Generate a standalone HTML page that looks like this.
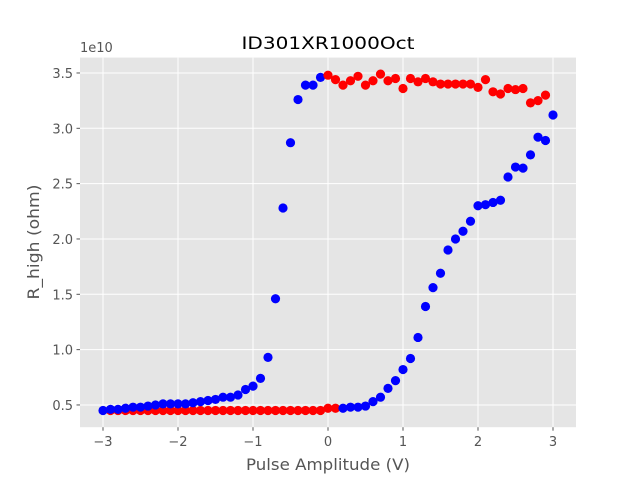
<!DOCTYPE html>
<html><head><meta charset="utf-8"><style>
body{margin:0;background:#fff;}
svg text{font-family:"DejaVu Sans","Liberation Sans",sans-serif;}
</style></head><body>
<svg id="chart" width="640" height="480" xmlns="http://www.w3.org/2000/svg">
<rect x="0" y="0" width="640" height="480" fill="#fff"/>
<rect x="80" y="57.6" width="496" height="369.6" fill="#e5e5e5"/>
<g id="grid"></g>
<g id="ticks"></g>
<g id="series"></g>
<text x="328" y="49" text-anchor="middle" font-size="17" fill="#000" textLength="173" lengthAdjust="spacingAndGlyphs">ID301XR1000Oct</text>
<text x="80" y="52" font-size="13" fill="#555">1e10</text>
<text x="328" y="470" text-anchor="middle" font-size="16" fill="#555" textLength="164" lengthAdjust="spacingAndGlyphs">Pulse Amplitude (V)</text>
<text transform="translate(39,242) rotate(-90)" text-anchor="middle" font-size="16" fill="#555" textLength="115" lengthAdjust="spacingAndGlyphs">R_high (ohm)</text>
</svg>
<script>
const xTicks=[-3,-2,-1,0,1,2,3];
const yTicks=[0.5,1.0,1.5,2.0,2.5,3.0,3.5];
const yTickLabels=["0.5","1.0","1.5","2.0","2.5","3.0","3.5"];
const blueLeftX=[-3.0,-2.9,-2.8,-2.7,-2.6,-2.5,-2.4,-2.3,-2.2,-2.1,-2.0,-1.9,-1.8,-1.7,-1.6,-1.5,-1.4,-1.3,-1.2,-1.1,-1.0,-0.9,-0.8,-0.7,-0.6,-0.5,-0.4,-0.3,-0.2,-0.1];
const blueLeftY=[0.45,0.46,0.46,0.47,0.48,0.48,0.49,0.50,0.51,0.51,0.51,0.51,0.52,0.53,0.54,0.55,0.57,0.57,0.59,0.64,0.67,0.74,0.93,1.46,2.28,2.87,3.26,3.39,3.39,3.46];
const redBottomX=[-2.9,-2.8,-2.7,-2.6,-2.5,-2.4,-2.3,-2.2,-2.1,-2.0,-1.9,-1.8,-1.7,-1.6,-1.5,-1.4,-1.3,-1.2,-1.1,-1.0,-0.9,-0.8,-0.7,-0.6,-0.5,-0.4,-0.3,-0.2,-0.1,0.0,0.1];
const redBottomY=[0.45,0.45,0.45,0.45,0.45,0.45,0.45,0.45,0.45,0.45,0.45,0.45,0.45,0.45,0.45,0.45,0.45,0.45,0.45,0.45,0.45,0.45,0.45,0.45,0.45,0.45,0.45,0.45,0.45,0.47,0.47];
const redTopX=[0.0,0.1,0.2,0.3,0.4,0.5,0.6,0.7,0.8,0.9,1.0,1.1,1.2,1.3,1.4,1.5,1.6,1.7,1.8,1.9,2.0,2.1,2.2,2.3,2.4,2.5,2.6,2.7,2.8,2.9];
const redTopY=[3.48,3.44,3.39,3.43,3.47,3.39,3.43,3.49,3.43,3.45,3.36,3.45,3.42,3.45,3.42,3.40,3.40,3.40,3.40,3.40,3.37,3.44,3.33,3.31,3.36,3.35,3.36,3.23,3.25,3.30];
const blueRightX=[0.2,0.3,0.4,0.5,0.6,0.7,0.8,0.9,1.0,1.1,1.2,1.3,1.4,1.5,1.6,1.7,1.8,1.9,2.0,2.1,2.2,2.3,2.4,2.5,2.6,2.7,2.8,2.9,3.0];
const blueRightY=[0.47,0.48,0.48,0.49,0.53,0.57,0.65,0.72,0.82,0.92,1.11,1.39,1.56,1.69,1.90,2.00,2.07,2.16,2.30,2.31,2.33,2.35,2.56,2.65,2.64,2.76,2.92,2.89,3.12];

const NS="http://www.w3.org/2000/svg";
const L=80,R=576,T=57.6,B=427.2;
const xMin=-3.3067,xMax=3.3067,yMin=0.299,yMax=3.639;
function sx(v){return L+(v-xMin)/(xMax-xMin)*(R-L);}
function sy(v){return B-(v-yMin)/(yMax-yMin)*(B-T);}
function mk(tag,attrs,parent){const e=document.createElementNS(NS,tag);for(const k in attrs)e.setAttribute(k,attrs[k]);parent.appendChild(e);return e;}
const grid=document.getElementById('grid'),ticks=document.getElementById('ticks'),series=document.getElementById('series');
xTicks.forEach(t=>{
  const x=sx(t);
  const g=mk('line',{x1:x,x2:x,y1:T,y2:B,stroke:'#fff','stroke-width':1},grid);
  
  
  const tk=mk('line',{x1:x,x2:x,y1:B,y2:B+3.5,stroke:'#555','stroke-width':1},ticks);
  
  
  const tx=mk('text',{x:x,y:B+19,'text-anchor':'middle','font-size':13,fill:'#555'},ticks);
  tx.textContent=(t<0?'\u2212'+(-t):String(t));
  
  
});
yTicks.forEach((t,i)=>{
  const y=sy(t);
  const g=mk('line',{x1:L,x2:R,y1:y,y2:y,stroke:'#fff','stroke-width':1},grid);
  
  
  const tk=mk('line',{x1:L-3.5,x2:L,y1:y,y2:y,stroke:'#555','stroke-width':1},ticks);
  
  
  const tx=mk('text',{x:L-7,y:y+5,'text-anchor':'end','font-size':13,fill:'#555'},ticks);
  tx.textContent=yTickLabels[i];
  
  
});
function draw(xs,ys,color,name){
  xs.forEach((x,i)=>{
    const c=mk('circle',{cx:sx(x),cy:sy(ys[i]),r:4.6,fill:color},series);
    
    
  });
}
draw(redBottomX,redBottomY,'#ff0000','red-point');
draw(blueLeftX,blueLeftY,'#0000ff','blue-point');
draw(redTopX,redTopY,'#ff0000','red-point');
draw(blueRightX,blueRightY,'#0000ff','blue-point');
</script>
</body></html>
